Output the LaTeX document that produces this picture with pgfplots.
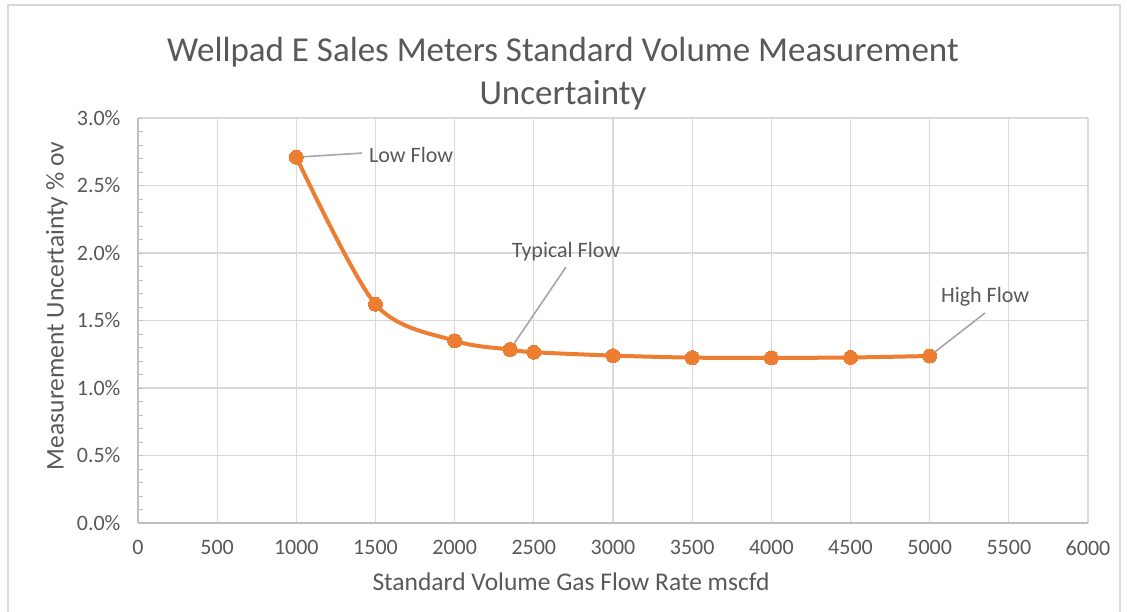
\documentclass[border=0pt]{standalone}
\usepackage{fontspec}
\setmainfont{Carlito}
\usepackage{pgfplots}
\pgfplotsset{compat=1.18}
\definecolor{txt}{RGB}{89,89,89}
\definecolor{gridc}{RGB}{217,217,217}
\definecolor{axl}{RGB}{191,191,191}
\definecolor{org}{RGB}{237,125,49}
\definecolor{ann}{RGB}{166,166,166}
\begin{document}
\begin{tikzpicture}[x=1pt,y=1pt]
\useasboundingbox (0,0) rectangle (1127,611);
\fill[white] (0,0) rectangle (1127,611);
\draw[gridc, line width=1.2pt] (8,-5) -- (8,606) -- (1120,606) -- (1120,-5);
\begin{axis}[
  at={(138pt,88pt)}, anchor=south west, scale only axis,
  width=950pt, height=405pt,
  xmin=0, xmax=6000, ymin=0, ymax=3,
  xtick={0,500,...,6000}, ytick={0,0.5,1,1.5,2,2.5,3},
  minor y tick num=4,
  axis lines*=left,
  axis line style={axl, line width=1.2pt, -},
  grid=major, major grid style={gridc, line width=1.2pt},
  tick align=inside,
  xtick style={draw=none},
  ytick style={axl, line width=1pt},
  major tick length=5pt, minor tick length=5pt,
  /pgf/number format/assume math mode=true,
  /pgf/number format/set thousands separator={},
  ticklabel style={font=\fontsize{22}{24}\selectfont, text=txt},
  xticklabel style={yshift=-14pt},
  yticklabel style={xshift=-14pt},
  yticklabel={\pgfmathprintnumber[fixed,fixed zerofill,precision=1]{\tick}\%},
  clip=false,
]
\addplot[org, line width=4pt, smooth, tension=0.5, mark=*, mark size=7pt,
  mark options={fill=org, draw=org, line width=0pt}]
  coordinates {(1000,2.71) (1500,1.62) (2000,1.35) (2350,1.285) (2500,1.265)
  (3000,1.24) (3500,1.225) (4000,1.223) (4500,1.226) (5000,1.237)};
\draw[ann, line width=1.6pt] (axis cs:1000,2.71) -- (axis cs:1415,2.74);
\node[anchor=west, inner sep=0pt, text=txt, font=\fontsize{22}{24}\selectfont] at (axis cs:1459,2.726) {Low Flow};
\draw[ann, line width=1.6pt] (axis cs:2350,1.285) -- (axis cs:2703,1.896);
\node[text=txt, font=\fontsize{22}{24}\selectfont] at (axis cs:2703,2.007) {Typical Flow};
\draw[ann, line width=1.6pt] (axis cs:5000,1.237) -- (axis cs:5350,1.556);
\node[text=txt, font=\fontsize{22}{24}\selectfont] at (axis cs:5350,1.674) {High Flow};
\end{axis}
\node[text=txt, font=\fontsize{35}{43}\selectfont, align=center] at (563,537.5)
  {Wellpad E Sales Meters Standard Volume Measurement\\Uncertainty};
\node[text=txt, font=\fontsize{25.5}{28}\selectfont] at (571,29) {Standard Volume Gas Flow Rate mscfd};
\node[text=txt, font=\fontsize{25.5}{28}\selectfont, rotate=90] at (57,305) {Measurement Uncertainty \% ov};
\end{tikzpicture}
\end{document}
